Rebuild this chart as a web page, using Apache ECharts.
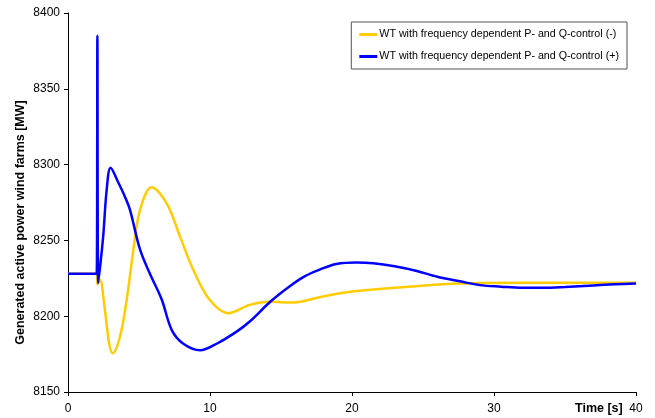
<!DOCTYPE html>
<html>
<head>
<meta charset="utf-8">
<script src="https://cdn.jsdelivr.net/npm/echarts@6/dist/echarts.min.js"></script>
<style>
html, body { margin: 0; padding: 0; background: #fff; }
#main { width: 655px; height: 418px; }
</style>
</head>
<body>
<div id="main"></div>
<script>
'use strict';

let myChart = echarts.init(document.getElementById('main'));

let nameMinus = 'WT with frequency dependent P- and Q-control (-)';
let namePlus = 'WT with frequency dependent P- and Q-control (+)';

let timeMinus = [0, 2.02, 2.08, 2.25, 2.6, 2.9, 3.15, 3.66, 4.13, 4.6, 5.07, 5.89, 6.95, 7.89, 8.83, 10, 11.3, 12.8, 14.2, 15.9, 17.7, 19.4, 21.3, 24, 27.6, 31.8, 36, 40];
let powerMinus = [8228, 8228, 8221, 8224, 8204, 8182, 8175.5, 8186.5, 8210.5, 8243.5, 8270, 8285, 8274.5, 8252.5, 8230.5, 8210.5, 8202, 8207.5, 8209.5, 8209, 8212.5, 8215.5, 8217.5, 8219.5, 8221.5, 8222, 8222, 8222];

let timePlus = [0, 2.02, 2.07, 2.13, 2.3, 2.49, 2.72, 3.0, 3.55, 4.0, 4.37, 5.07, 5.77, 6.6, 7.3, 8.1, 9.3, 10.5, 11.9, 12.8, 14.3, 15.5, 16.6, 17.8, 18.9, 20.3, 21.5, 23, 24.5, 26, 27.6, 29, 30.5, 32, 33.5, 35, 37, 38.5, 40];
let powerPlus = [8228, 8228, 8385, 8222, 8236, 8254, 8283, 8298, 8288, 8279, 8270, 8244, 8228, 8211, 8191, 8182, 8177.5, 8182, 8190, 8196.5, 8210, 8219, 8226, 8231, 8234.5, 8235.5, 8235, 8233, 8230, 8226, 8223, 8220.5, 8219.5, 8218.8, 8218.8, 8219.3, 8220.3, 8221, 8221.5];

function pairs(xs, ys) {
	let out = [];
	for (let i = 0; i < xs.length; i++) {
		out.push([xs[i], ys[i]]);
	}
	return out;
}

let font = 'Liberation Sans, Arial, sans-serif';

let option = {
	animation: false,
	textStyle: { fontFamily: font },
	grid: {
		left: 68,
		right: 19,
		top: 13,
		bottom: 26,
		containLabel: false,
		outerBoundsMode: 'none'
	},
	legend: {
		orient: 'vertical',
		right: 28,
		top: 22,
		padding: [7, 8, 7, 8],
		itemGap: 11,
		itemWidth: 18,
		itemHeight: 3,
		icon: 'rect',
		borderColor: '#555',
		borderWidth: 1,
		textStyle: { fontFamily: font, fontSize: 10.7, color: '#000', padding: [0, 0, 0, -3] },
		data: [nameMinus, namePlus]
	},
	xAxis: [{
		type: 'value',
		min: 0,
		max: 40,
		interval: 10,
		name: 'Time [s]',
		nameLocation: 'end',
		nameGap: -61,
		nameMoveOverlap: false,
		nameTextStyle: {
			fontFamily: font,
			fontSize: 12.5,
			fontWeight: 'bold',
			color: '#000',
			verticalAlign: 'top',
			padding: [10, 0, 0, 0]
		},
		splitLine: { show: false },
		axisLine: { lineStyle: { color: '#000', width: 1 } },
		axisTick: { show: true, length: 4, lineStyle: { color: '#000' } },
		axisLabel: { fontFamily: font, fontSize: 12, color: '#000', margin: 11 }
	}],
	yAxis: [{
		type: 'value',
		min: 8150,
		max: 8400,
		interval: 50,
		name: 'Generated active power wind farms [MW]',
		nameLocation: 'middle',
		nameGap: 41,
		nameMoveOverlap: false,
		nameTextStyle: {
			fontFamily: font,
			fontSize: 12.5,
			fontWeight: 'bold',
			color: '#000',
			padding: [0, 40, 0, 0]
		},
		splitLine: { show: false },
		axisLine: { show: true, lineStyle: { color: '#000', width: 1 } },
		axisTick: { show: true, length: 4, lineStyle: { color: '#000' } },
		axisLabel: {
			fontFamily: font,
			fontSize: 12,
			color: '#000',
			margin: 8,
			formatter: function (v) { return String(v); }
		}
	}],
	series: [{
		name: nameMinus,
		type: 'line',
		data: pairs(timeMinus, powerMinus),
		showSymbol: false,
		smooth: 0.35,
		color: '#FFCC00',
		lineStyle: { width: 2.5, color: '#FFCC00' }
	}, {
		name: namePlus,
		type: 'line',
		data: pairs(timePlus, powerPlus),
		showSymbol: false,
		smooth: 0.35,
		color: '#0000FF',
		lineStyle: { width: 2.5, color: '#0000FF' }
	}]
};
myChart.setOption(option);
</script>
</body>
</html>
